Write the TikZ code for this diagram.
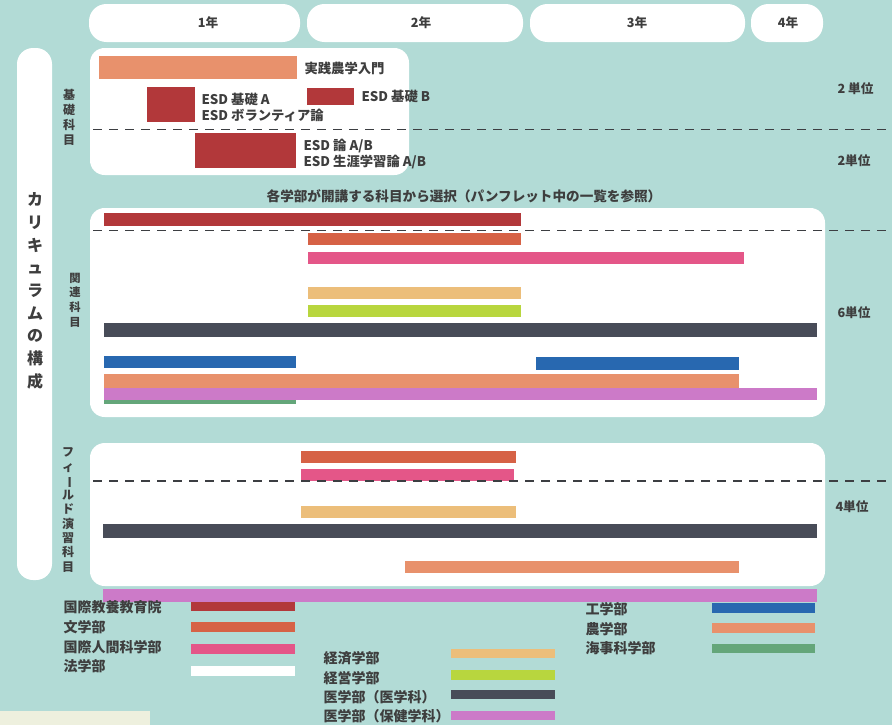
\documentclass[tikz,border=0pt]{standalone}
\usepackage{fontspec}
\setmainfont{Noto Sans CJK JP}

\definecolor{bgteal}{RGB}{178,219,214}
\definecolor{creamy}{RGB}{238,240,222}
\definecolor{inkgray}{RGB}{62,62,62}
\definecolor{dashgray}{RGB}{60,62,66}
\definecolor{kyoyored}{RGB}{178,56,58}
\definecolor{bunred}{RGB}{214,98,70}
\definecolor{kokupink}{RGB}{228,86,136}
\definecolor{keizaitan}{RGB}{236,190,122}
\definecolor{keieilime}{RGB}{184,214,62}
\definecolor{igakugray}{RGB}{72,76,88}
\definecolor{kogakublue}{RGB}{40,104,176}
\definecolor{nogakusalmon}{RGB}{232,145,108}
\definecolor{hokenviolet}{RGB}{204,122,200}
\definecolor{kaijigreen}{RGB}{100,166,122}

\tikzset{every picture/.style={line width=0.75pt}}
\tikzset{
  yearpill/.style={fill=white, rounded corners=13pt},
  panel/.style={fill=white, rounded corners=11pt},
  divline/.style={color=dashgray, line width=1.3pt, dash pattern=on 7pt off 5pt},
  yeartxt/.style={inner sep=0.75pt, text=inkgray, font=\bfseries\fontsize{9.5}{10}\selectfont},
  coursetxt/.style={anchor=west, inner sep=0.75pt, align=left, text=inkgray, font=\bfseries\fontsize{10}{11.5}\selectfont},
  unittxt/.style={anchor=west, inner sep=0.75pt, text=inkgray, font=\bfseries\fontsize{9.5}{10}\selectfont},
  legtxt/.style={anchor=west, inner sep=0.75pt, text=inkgray, font=\bfseries\fontsize{10.5}{11}\selectfont},
  sidetxt/.style={inner sep=0.75pt, align=center, text=inkgray, font=\bfseries\fontsize{9}{10.7}\selectfont},
}
\newcommand{\vbar}{\rotatebox[origin=c]{-90}{ー}}

\begin{document}
\begin{tikzpicture}[x=0.75pt,y=0.75pt,yscale=-1]
\useasboundingbox (0,0) rectangle (892,725);

%background
\fill [bgteal] (0,0) rectangle (892,725);
\fill [creamy] (0,711) rectangle (150,725);

%year pills
\fill [yearpill] (89,4) rectangle (300,42);
\fill [yearpill] (307,4) rectangle (523,42);
\fill [yearpill] (530,4) rectangle (745,42);
\fill [yearpill] (751,4) rectangle (823,42);
% Text Node
\node [yeartxt] (yr1) at (208,23) {1年};
\node [yeartxt] (yr2) at (421,23) {2年};
\node [yeartxt] (yr3) at (637,23) {3年};
\node [yeartxt] (yr4) at (788,23) {4年};

%left pill
\fill [white, rounded corners=12pt] (17,48) rectangle (52,580);
\node [sidetxt, font=\bfseries\fontsize{12}{17}\selectfont] (kosei) at (35,291)
  {カ\\リ\\キ\\ュ\\ラ\\ム\\の\\構\\成};

%panels
\fill [panel] (90,48) rectangle (409,175);
\fill [panel] (90,208) rectangle (825,417);
\fill [panel] (90,443) rectangle (825,586);

% Text Node
\node [sidetxt, font=\bfseries\fontsize{9}{11.2}\selectfont] (kiso) at (69,117) {基\\礎\\科\\目};
\node [sidetxt, font=\bfseries\fontsize{8.5}{11}\selectfont] (kanren) at (75,300) {関\\連\\科\\目};
\node [sidetxt] (field) at (68,510) {フ\\ィ\\\vbar\\ル\\ド\\演\\習\\科\\目};

%kiso kamoku
\fill [nogakusalmon] (99,56) rectangle (297,79);
\fill [kyoyored] (147,87) rectangle (195,122);
\fill [kyoyored] (307,88) rectangle (354,105);
\fill [kyoyored] (195,133) rectangle (296,168);
\draw [divline] (93,129.5) -- (892,129.5);
% Text Node
\node [coursetxt] (jissen) at (303,68) {実践農学入門};
\node [coursetxt] (esdA) at (200,107.5) {ESD 基礎 A\\ESD ボランティア論};
\node [coursetxt] (esdB) at (360,96.5) {ESD 基礎 B};
\node [coursetxt] (esdron) at (302,154) {ESD 論 A/B\\ESD 生涯学習論 A/B};
\node [unittxt] (u1) at (836,89) {2 単位};
\node [unittxt] (u2) at (836,161) {2単位};

%kanren kamoku
\node [inner sep=0.75pt, text=inkgray, font=\bfseries\fontsize{10.2}{11}\selectfont] (sentaku) at (464,196)
  {各学部が開講する科目から選択（パンフレット中の一覧を参照）};
\fill [kyoyored] (104,213) rectangle (521,226);
\fill [bunred] (308,233) rectangle (521,245);
\fill [kokupink] (308,252) rectangle (744,264);
\fill [keizaitan] (308,287) rectangle (521,299);
\fill [keieilime] (308,305) rectangle (521,317);
\fill [igakugray] (104,323) rectangle (817,337);
\fill [kogakublue] (104,356) rectangle (296,368);
\fill [kogakublue] (536,357) rectangle (739,370);
\fill [kaijigreen] (104,395) rectangle (296,404);
\fill [nogakusalmon] (104,374) rectangle (739,388);
\fill [hokenviolet] (104,388) rectangle (817,400);
\draw [divline] (93,230.5) -- (892,230.5);
\node [unittxt] (u3) at (836,313) {6単位};

%field kamoku
\fill [bunred] (301,451) rectangle (516,463);
\fill [kokupink] (301,469) rectangle (514,481);
\fill [keizaitan] (301,506) rectangle (516,518);
\fill [igakugray] (103,524) rectangle (817,538);
\fill [nogakusalmon] (405,561) rectangle (739,573);
\fill [hokenviolet] (103,589) rectangle (817,602);
\draw [divline] (93,481) -- (892,481);
\node [unittxt] (u4) at (834,507) {4単位};

%legend
\fill [kyoyored] (191,602) rectangle (295,611);
\fill [bunred] (191,622) rectangle (295,632);
\fill [kokupink] (191,644) rectangle (295,654);
\fill [white] (191,666) rectangle (295,676);
\fill [keizaitan] (451,649) rectangle (555,658);
\fill [keieilime] (451,670) rectangle (555,680);
\fill [igakugray] (451,690) rectangle (555,699);
\fill [hokenviolet] (451,711) rectangle (555,720);
\fill [kogakublue] (712,603) rectangle (815,613);
\fill [nogakusalmon] (712,623) rectangle (815,633);
\fill [kaijigreen] (712,644) rectangle (815,653);
% Text Node
\node [legtxt] (lg1) at (62,607) {国際教養教育院};
\node [legtxt] (lg2) at (62,627) {文学部};
\node [legtxt] (lg3) at (62,647) {国際人間科学部};
\node [legtxt] (lg4) at (62,666) {法学部};
\node [legtxt] (lg5) at (322,658) {経済学部};
\node [legtxt] (lg6) at (322,678) {経営学部};
\node [legtxt] (lg7) at (322,697) {医学部（医学科）};
\node [legtxt] (lg8) at (322,716) {医学部（保健学科）};
\node [legtxt] (lg9) at (584,609) {工学部};
\node [legtxt] (lg10) at (584,629) {農学部};
\node [legtxt] (lg11) at (584,648) {海事科学部};

\end{tikzpicture}
\end{document}
